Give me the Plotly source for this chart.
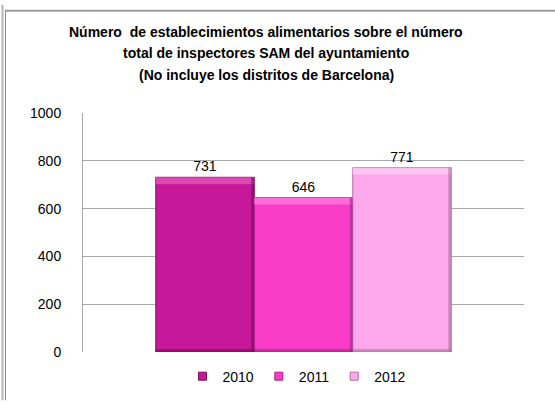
import plotly.graph_objects as go

# Values per year
years = ["2010", "2011", "2012"]
values = [731, 646, 771]
colors = ["#C8189A", "#F93CC8", "#FDA8EC"]
top_colors = ["#DA4FB4", "#FC72DA", "#FEC6F3"]
edge_colors = ["#7A0E5E", "#A8208A", "#B070A0"]
y_ticks = [0, 200, 400, 600, 800, 1000]
title_lines = [
    "Número  de establecimientos alimentarios sobre el número",
    "total de inspectores SAM del ayuntamiento",
    "(No incluye los distritos de Barcelona)",
]

W, H = 555, 405
ML, MR, MT, MB = 83, 31, 113, 49
PW, PH = W - ML - MR, H - MT - MB
BARGAP = 0.33
Y_MAX = 1000


def px_x(px):
    return (px - ML) / PW


def px_y(py):
    return (H - MB - py) / PH


font_fam = "Liberation Sans Narrow, Arial Narrow, sans-serif"

fig = go.Figure()
for yr, v, c, ec in zip(years, values, colors, edge_colors):
    fig.add_trace(go.Bar(
        name=yr, x=[0], y=[v], showlegend=False,
        marker=dict(color=c, line=dict(color=ec, width=1)),
        text=[str(v)], textposition="outside", cliponaxis=False,
        textfont=dict(family=font_fam, size=14, color="#000"),
    ))
# small square keys for the legend
for yr, c, ec in zip(years, colors, edge_colors):
    fig.add_trace(go.Scatter(
        name=yr, x=[None], y=[None], mode="markers",
        marker=dict(symbol="square", size=8, color=c, line=dict(color=ec, width=1)),
    ))

# bevel highlights on each bar (top band lighter, right/bottom edges darker)
shapes = []
n = len(values)
group_w = 1 - BARGAP
bar_w = group_w / n
band_h = 7 / PH * Y_MAX
edge_w = 3 / PW
bottom_h = 3 / PH * Y_MAX
for i, (v, tc, ec) in enumerate(zip(values, top_colors, edge_colors)):
    x0 = -group_w / 2 + i * bar_w
    x1 = x0 + bar_w
    shapes.append(dict(type="rect", xref="x", yref="y", x0=x0, x1=x1, y0=v - band_h, y1=v,
                       fillcolor=tc, line=dict(width=0), layer="above", opacity=0.9))
    shapes.append(dict(type="rect", xref="x", yref="y", x0=x1 - edge_w, x1=x1, y0=0, y1=v,
                       fillcolor=ec, line=dict(width=0), layer="above", opacity=0.6))
    shapes.append(dict(type="rect", xref="x", yref="y", x0=x0, x1=x1, y0=0, y1=bottom_h,
                       fillcolor=ec, line=dict(width=0), layer="above", opacity=0.6))

# outer frame edges
shapes += [
    dict(type="line", xref="paper", yref="paper", x0=px_x(2.5), x1=px_x(2.5), y0=px_y(3), y1=px_y(405),
         line=dict(color="#B4B4B4", width=2)),
    dict(type="line", xref="paper", yref="paper", x0=px_x(5.5), x1=px_x(5.5), y0=px_y(8), y1=px_y(405),
         line=dict(color="#8C8C8C", width=1)),
    dict(type="line", xref="paper", yref="paper", x0=px_x(5), x1=px_x(555), y0=px_y(9), y1=px_y(9),
         line=dict(color="#9A9A9A", width=2)),
]

title_y = [31, 52, 74]
annotations = [
    dict(text=f"<b>{t}</b>", xref="paper", yref="paper", x=px_x(266), y=px_y(ty),
         xanchor="center", yanchor="middle", showarrow=False,
         font=dict(family=font_fam, size=14, color="#000"))
    for t, ty in zip(title_lines, title_y)
]

fig.update_layout(
    width=W, height=H,
    margin=dict(l=ML, r=MR, t=MT, b=MB),
    paper_bgcolor="white", plot_bgcolor="white",
    barmode="group", bargap=BARGAP, bargroupgap=0,
    showlegend=True,
    legend=dict(orientation="h", x=px_x(297), xanchor="center", y=px_y(381), yanchor="middle",
                font=dict(family=font_fam, size=14, color="#000"),
                itemwidth=30, traceorder="normal", tracegroupgap=0),
    font=dict(family=font_fam, size=14, color="#000"),
    xaxis=dict(range=[-0.5, 0.5], showticklabels=False, ticks="", showgrid=False,
               zeroline=False, showline=False),
    yaxis=dict(range=[0, Y_MAX], tickvals=y_ticks, showgrid=True, gridcolor="#A8A8A8", gridwidth=1,
               zeroline=False, showline=True, linecolor="#A8A8A8", linewidth=1,
               ticks="", ticklabelstandoff=18,
               tickfont=dict(family=font_fam, size=14, color="#000")),
    annotations=annotations,
    shapes=shapes,
)

fig.write_html("out.html")
